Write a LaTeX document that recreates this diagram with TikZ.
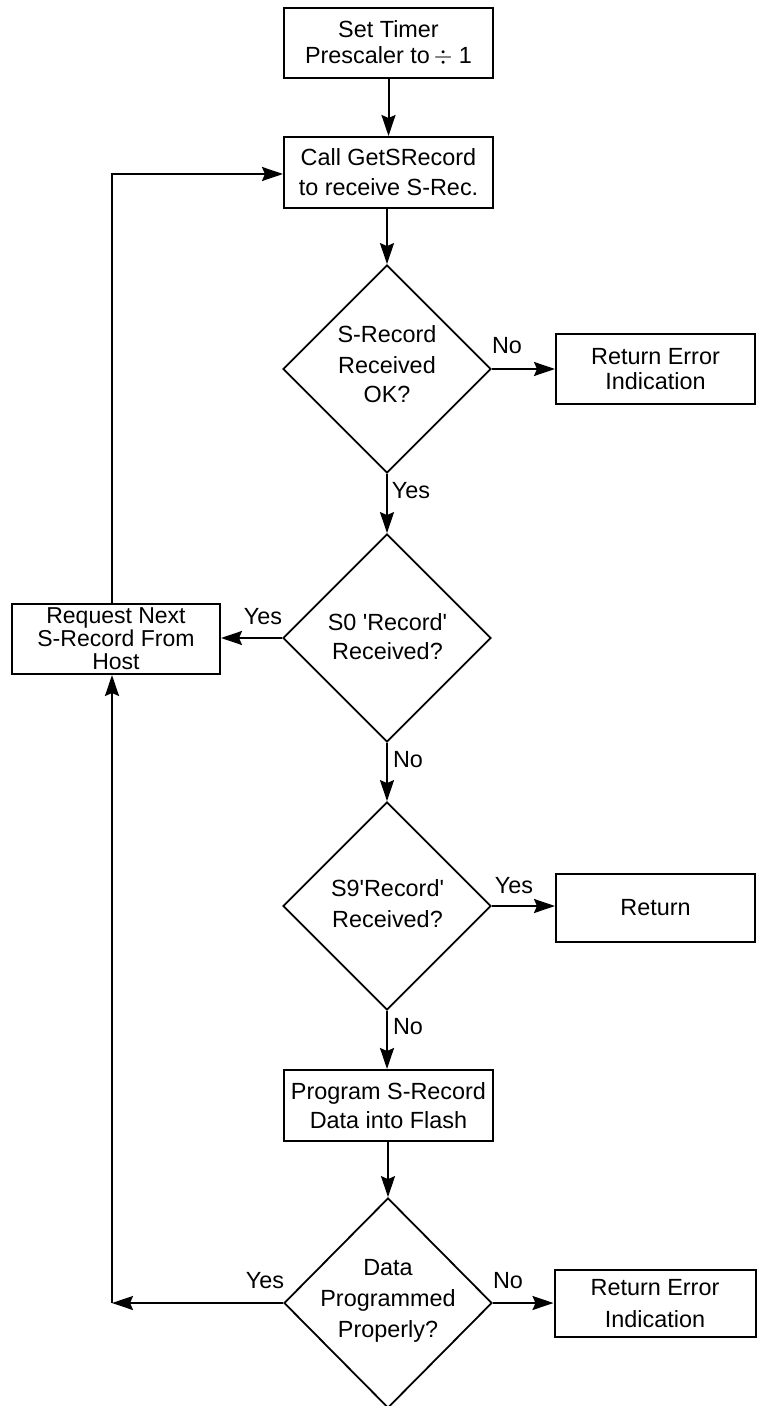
\documentclass[tikz,border=0pt]{standalone}
\usepackage{fontspec}
\setmainfont{Liberation Sans}[Ligatures=TeXOff]
\usetikzlibrary{shapes.geometric,arrows.meta}
\begin{document}
\begin{tikzpicture}[x=0.5pt,y=-0.5pt,
  every node/.style={font=\fontsize{11.7pt}{14.5pt}\selectfont},
  box/.style={draw,line width=1pt,rectangle,inner sep=0pt,align=center},
  dec/.style={draw,line width=0.9pt,diamond,aspect=1,inner sep=0pt,minimum width=104pt,minimum height=104pt},
  txt/.style={align=center,inner sep=0pt},
  lbl/.style={inner sep=0pt},
  arr/.style={line width=1pt,-{Stealth[length=10.5pt,width=7pt,inset=1.5pt]}},
  ln/.style={line width=1pt}]
\useasboundingbox (0,0) rectangle (756,1406);
% boxes
\node[box,minimum width=104.5pt,minimum height=35pt] (b1) at (388.5,43) {Set Timer\\[-1.5pt]Prescaler to\,$\div$ 1};
\node[box,minimum width=104.5pt,minimum height=35.5pt] (b2) at (388.5,172.5) {Call GetSRecord\\[0.5pt]to receive S-Rec.};
\node[dec] (d1) at (387,369) {};
\node[txt] (t1) at (387,364) {S-Record\\[1pt]Received\\[0pt]OK?};
\node[box,minimum width=99.5pt,minimum height=35pt] (e1) at (655.5,369) {Return Error\\[-2pt]Indication};
\node[dec] (d2) at (387,638) {};
\node[txt] (t2) at (387.5,637) {S0 'Record'\\[0pt]Received?};
\node[box,minimum width=104pt,minimum height=35pt,font=\fontsize{11.5pt}{11.5pt}\selectfont] (rq) at (116,639) {Request Next\\S-Record From\\Host};
\node[dec] (d3) at (387,906) {};
\node[txt] (t3) at (387.5,904) {S9'Record'\\[1pt]Received?};
\node[box,minimum width=99.5pt,minimum height=34pt] (r1) at (655.5,908) {Return};
\node[box,minimum width=104.5pt,minimum height=35.5pt] (pg) at (388.5,1105.5) {Program S-Record\\[0pt]Data into Flash};
\node[dec,minimum height=105pt] (d4) at (388,1303) {};
\node[txt] (t4) at (388,1301) {Data\\[1pt]Programmed\\[1pt]Properly?};
\node[box,minimum width=100.5pt,minimum height=33.5pt] (e2) at (655,1303.5) {Return Error\\[1.5pt]Indication};
% connectors
\draw[arr] (b1) -- (b2);
\draw[arr] (b2.south -| d1) -- (d1);
\draw[arr] (d1.east) -- (d1.east -| e1.west);
\draw[arr] (d1) -- (d2);
\draw[arr] (d2.west) -- (d2.west -| rq.east);
\coordinate (up) at (112,174);
\draw[arr] (rq.north -| up) -- (up) -- (b2.west |- up);
\draw[arr] (d2) -- (d3);
\draw[arr] (d3.east) -- (d3.east -| r1.west);
\draw[arr] (d3) -- (d3 |- pg.north);
\draw[arr] (pg.south -| d4) -- (d4);
\draw[arr] (d4.east) -- (d4.east -| e2.west);
\coordinate (lc) at (112,1303);
\draw[arr] (d4.west) -- (lc);
\draw[arr] (lc) -- (rq.south -| lc);
% labels
\node[lbl] (l1) at (507,346) {No};
\node[lbl] (l2) at (411,491) {Yes};
\node[lbl] (l3) at (263,617) {Yes};
\node[lbl] (l4) at (408,760) {No};
\node[lbl] (l5) at (514,886) {Yes};
\node[lbl] (l6) at (408,1027) {No};
\node[lbl] (l7) at (265,1281) {Yes};
\node[lbl] (l8) at (508,1281) {No};
\end{tikzpicture}
\end{document}
